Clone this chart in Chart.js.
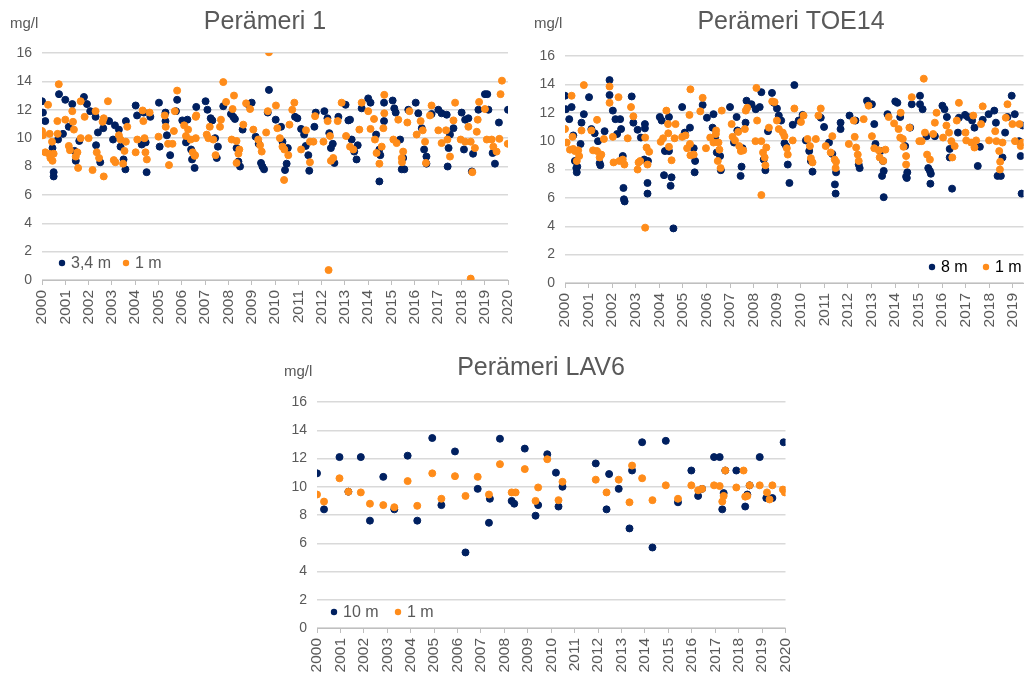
<!DOCTYPE html>
<html lang="fi">

<head>
    <meta charset="UTF-8">
    <title>Perämeri - happi</title>
    <style>
        body { margin: 0; background: #fff; }
        .wrap { position: relative; width: 1028px; height: 677px; }
        canvas { position: absolute; }
    </style>
</head>

<body>
    <div class="wrap">
        <canvas id="chartP1" width="520" height="340" style="left:0;top:0"></canvas>
        <canvas id="chartToe" width="508" height="340" style="left:520px;top:0"></canvas>
        <canvas id="chartLav" width="520" height="337" style="left:270px;top:340px"></canvas>
    </div>

<script src="https://cdn.jsdelivr.net/npm/chart.js"></script>
<script>
    // x axis labels (years)
    const years = [2000, 2001, 2002, 2003, 2004, 2005, 2006, 2007, 2008, 2009, 2010,
                   2011, 2012, 2013, 2014, 2015, 2016, 2017, 2018, 2019, 2020];

    // --- data: [year, mg/l] ---
    const p1Deep = [
        [2000.0,12.6],[2000.04,11.8],[2000.14,11.2],[2000.45,9.3],[2000.5,7.6],[2000.5,7.3],[2000.69,9.9],[2000.73,13.1],[2000.9,10.3],
        [2001.0,12.7],[2001.15,10.8],[2001.3,12.4],[2001.4,9.1],[2001.45,8.4],[2001.6,9.8],[2001.8,12.9],[2001.93,12.4],
        [2002.07,11.9],[2002.3,11.5],[2002.32,9.5],[2002.4,10.4],[2002.5,8.3],[2002.63,10.7],[2002.88,11.2],
        [2003.05,9.9],[2003.13,10.9],[2003.3,10.6],[2003.37,9.4],[2003.5,8.5],[2003.58,7.8],[2003.6,11.2],
        [2004.02,12.3],[2004.08,11.6],[2004.28,9.55],[2004.37,11.8],[2004.45,9.7],[2004.49,7.6],[2004.65,11.5],
        [2005.02,12.5],[2005.05,9.4],[2005.3,11.8],[2005.3,11.2],[2005.36,10.2],[2005.5,8.8],[2005.75,11.9],[2005.8,12.7],
        [2006.02,11.25],[2006.18,9.7],[2006.24,11.3],[2006.4,9.2],[2006.44,8.5],[2006.55,7.9],[2006.62,12.2],
        [2007.02,12.6],[2007.1,12.0],[2007.24,11.4],[2007.31,11.25],[2007.43,10.0],[2007.5,8.6],[2007.55,9.4],[2007.78,12.25],
        [2008.11,11.7],[2008.21,11.5],[2008.28,11.35],[2008.35,9.3],[2008.43,8.35],[2008.5,8.0],[2008.61,10.6],[2008.83,12.4],
        [2009.0,12.5],[2009.17,10.1],[2009.3,9.6],[2009.4,8.25],[2009.46,8.0],[2009.53,7.8],[2009.69,11.8],[2009.74,13.4],
        [2010.03,11.3],[2010.26,10.8],[2010.32,9.75],[2010.43,7.75],[2010.5,8.2],[2010.55,9.3],[2010.86,11.5],[2010.96,11.4],
        [2011.12,10.65],[2011.25,10.25],[2011.32,9.45],[2011.43,8.8],[2011.47,7.7],[2011.69,10.8],[2011.75,11.8],
        [2012.12,11.9],[2012.25,11.4],[2012.33,10.35],[2012.4,9.3],[2012.48,9.6],[2012.55,8.25],[2012.72,11.5],
        [2013.03,12.35],[2013.15,11.25],[2013.22,11.3],[2013.29,9.9],[2013.4,9.05],[2013.5,8.5],[2013.55,9.5],[2013.72,12.1],
        [2014.0,12.8],[2014.1,12.5],[2014.34,10.25],[2014.48,9.2],[2014.48,6.95],[2014.52,8.8],[2014.68,12.5],[2014.68,11.2],
        [2015.05,12.65],[2015.12,12.1],[2015.18,11.8],[2015.37,9.9],[2015.44,7.8],[2015.5,8.6],[2015.55,7.8],[2015.72,12.0],
        [2016.04,12.5],[2016.15,11.75],[2016.3,10.7],[2016.4,9.2],[2016.5,8.7],[2016.5,8.2],[2016.72,11.7],
        [2017.01,12.0],[2017.15,11.75],[2017.37,11.65],[2017.41,8.0],[2017.45,9.3],[2017.51,10.25],[2017.66,10.7],
        [2018.01,11.8],[2018.11,9.2],[2018.16,11.3],[2018.3,11.4],[2018.45,7.65],[2018.5,8.9],[2018.73,12.0],
        [2019.01,13.1],[2019.11,13.1],[2019.16,12.0],[2019.34,8.95],[2019.44,8.2],[2019.61,11.1],[2020.0,12.0]
    ];
    const p1Surf = [
        [2000.0,10.5],[2000.04,10.2],[2000.14,9.0],[2000.26,12.35],[2000.3,8.9],[2000.33,10.3],[2000.36,8.6],[2000.43,9.75],[2000.45,8.4],[2000.5,8.9],[2000.66,11.2],[2000.67,10.3],[2000.72,13.8],
        [2001.0,11.3],[2001.15,9.45],[2001.2,9.15],[2001.3,11.9],[2001.33,11.15],[2001.37,10.6],[2001.45,8.7],[2001.52,9.0],[2001.55,7.9],[2001.66,12.6],[2001.66,10.0],[2001.83,11.5],
        [2002.0,10.0],[2002.17,7.75],[2002.3,11.9],[2002.35,9.0],[2002.45,8.6],[2002.6,11.15],[2002.65,11.4],[2002.65,7.3],[2002.83,12.6],
        [2003.08,8.45],[2003.15,8.3],[2003.3,10.2],[2003.37,9.9],[2003.48,8.2],[2003.54,9.1],[2003.6,9.75],[2003.66,10.8],
        [2004.02,9.0],[2004.09,9.9],[2004.32,11.95],[2004.35,11.2],[2004.4,10.0],[2004.44,9.0],[2004.5,8.5],[2004.62,11.8],
        [2005.0,10.1],[2005.27,11.6],[2005.31,10.8],[2005.41,9.6],[2005.45,8.1],[2005.6,9.6],[2005.66,10.5],[2005.7,11.9],[2005.8,13.35],
        [2006.1,10.9],[2006.18,10.15],[2006.27,10.6],[2006.38,9.9],[2006.47,9.0],[2006.55,8.75],[2006.57,8.8],[2006.6,11.5],[2006.6,10.0],[2006.62,11.6],
        [2007.07,10.25],[2007.14,10.0],[2007.2,10.8],[2007.35,9.9],[2007.45,8.8],[2007.64,10.8],[2007.68,11.3],[2007.78,13.95],[2007.9,12.55],
        [2008.14,9.9],[2008.18,12.05],[2008.24,13.0],[2008.35,9.8],[2008.35,8.25],[2008.43,8.9],[2008.47,9.2],[2008.64,10.95],[2008.76,12.45],[2008.93,12.05],
        [2009.07,10.6],[2009.28,9.9],[2009.36,9.5],[2009.43,9.05],[2009.62,10.4],[2009.69,11.9],[2009.74,16.05],
        [2010.04,12.3],[2010.1,10.7],[2010.21,10.0],[2010.32,9.4],[2010.39,7.05],[2010.4,9.2],[2010.57,8.8],[2010.62,10.95],[2010.74,12.0],[2010.83,12.5],
        [2011.12,9.2],[2011.33,10.55],[2011.5,9.75],[2011.5,8.3],[2011.65,9.75],[2011.72,11.55],
        [2012.08,9.75],[2012.26,11.2],[2012.3,0.7],[2012.36,10.15],[2012.4,8.4],[2012.5,8.6],[2012.69,11.2],[2012.86,12.5],
        [2013.05,10.15],[2013.22,9.4],[2013.36,9.2],[2013.62,10.6],[2013.72,12.5],
        [2014.0,11.9],[2014.1,10.65],[2014.25,11.35],[2014.29,9.9],[2014.36,8.95],[2014.48,8.2],[2014.58,9.4],[2014.65,10.7],[2014.69,13.05],[2014.69,11.75],
        [2015.08,9.9],[2015.22,9.65],[2015.29,11.3],[2015.44,8.6],[2015.45,8.3],[2015.5,9.05],[2015.68,11.1],[2015.77,11.9],
        [2016.08,10.25],[2016.25,11.2],[2016.34,10.55],[2016.44,9.75],[2016.48,8.25],[2016.65,11.6],[2016.72,12.3],
        [2017.01,10.55],[2017.15,9.65],[2017.34,10.55],[2017.4,9.9],[2017.51,8.7],[2017.66,11.25],[2017.73,12.5],[2017.97,9.9],
        [2018.16,9.75],[2018.3,10.8],[2018.4,9.75],[2018.4,0.1],[2018.47,7.6],[2018.58,9.3],[2018.66,10.45],[2018.7,11.3],[2018.76,12.55],
        [2019.01,12.05],[2019.09,9.9],[2019.3,9.9],[2019.37,9.4],[2019.51,9.05],[2019.63,9.95],[2019.68,13.1],[2019.74,14.05],[2019.99,9.6]
    ];
    const toeDeep = [
        [2000.0,13.2],[2000.04,12.25],[2000.18,11.55],[2000.28,12.4],[2000.35,10.4],[2000.42,8.6],[2000.48,8.1],[2000.5,7.8],[2000.52,8.2],[2000.66,9.8],[2000.7,11.3],[2000.8,11.9],
        [2001.02,13.1],[2001.12,10.85],[2001.26,10.55],[2001.4,10.0],[2001.47,8.45],[2001.5,8.3],[2001.68,10.7],[2001.89,14.3],[2001.89,13.25],
        [2002.03,12.15],[2002.14,11.55],[2002.21,10.5],[2002.34,11.55],[2002.38,10.85],[2002.45,8.95],[2002.48,6.7],[2002.5,5.9],[2002.53,5.75],[2002.83,13.15],[2002.9,11.3],
        [2003.08,10.8],[2003.22,10.25],[2003.36,8.7],[2003.39,11.2],[2003.39,10.9],[2003.5,7.05],[2003.5,6.3],[2003.52,8.6],
        [2004.02,11.7],[2004.1,11.45],[2004.2,7.6],[2004.24,9.3],[2004.41,11.7],[2004.41,9.3],[2004.48,6.85],[2004.52,7.45],[2004.6,3.85],[2004.97,12.4],
        [2005.08,10.6],[2005.3,10.95],[2005.46,9.5],[2005.5,7.8],[2005.52,8.6],[2005.84,12.55],
        [2006.02,11.65],[2006.26,10.95],[2006.3,11.9],[2006.37,10.25],[2006.44,9.2],[2006.58,8.95],[2006.61,7.95],
        [2007.0,12.4],[2007.17,9.9],[2007.28,11.7],[2007.31,10.75],[2007.45,7.55],[2007.49,8.2],[2007.53,9.5],[2007.66,11.3],[2007.7,12.85],[2007.91,12.6],
        [2008.09,12.25],[2008.26,12.4],[2008.33,13.45],[2008.43,8.7],[2008.5,7.95],[2008.61,10.7],[2008.78,13.4],[2008.86,12.7],[2008.99,12.3],
        [2009.07,11.8],[2009.17,11.45],[2009.31,9.85],[2009.38,9.65],[2009.45,8.35],[2009.52,7.05],[2009.66,11.15],[2009.73,13.95],[2009.91,11.45],
        [2010.08,11.85],[2010.22,10.05],[2010.36,9.3],[2010.43,8.6],[2010.5,7.85],[2010.85,11.65],[2010.99,11.0],
        [2011.2,9.9],[2011.34,9.1],[2011.45,6.95],[2011.48,6.3],[2011.5,7.8],[2011.69,11.3],[2011.69,10.85],
        [2012.07,11.8],[2012.32,11.45],[2012.46,8.35],[2012.5,8.1],[2012.81,12.85],[2012.88,12.6],
        [2013.02,12.6],[2013.12,11.2],[2013.17,9.8],[2013.38,9.3],[2013.45,7.55],[2013.49,8.6],[2013.52,7.9],[2013.52,6.05],[2013.68,11.9],
        [2014.01,12.8],[2014.1,12.7],[2014.22,11.7],[2014.43,9.65],[2014.47,7.5],[2014.5,7.4],[2014.52,7.8],[2014.64,10.95],[2014.71,12.6],
        [2015.06,13.2],[2015.06,12.6],[2015.17,12.25],[2015.34,10.35],[2015.41,8.1],[2015.48,7.9],[2015.5,7.0],[2015.52,7.7],[2015.69,10.35],
        [2016.01,12.5],[2016.1,12.25],[2016.2,11.7],[2016.32,9.45],[2016.32,8.85],[2016.42,6.65],[2016.67,10.6],[2016.71,11.65],
        [2016.97,11.85],[2017.09,11.7],[2017.27,11.45],[2017.37,10.95],[2017.51,8.25],[2017.6,9.6],[2017.72,11.5],[2017.97,11.9],
        [2018.21,12.15],[2018.28,11.3],[2018.35,7.55],[2018.49,7.55],[2018.56,8.85],[2018.67,10.6],[2018.77,11.7],[2018.95,13.2],
        [2019.08,11.9],[2019.26,10.0],[2019.33,8.95],[2019.37,6.3],[2019.42,11.1]
    ];
    const toeSurf = [
        [2000.0,10.85],[2000.07,9.9],[2000.21,9.4],[2000.28,13.2],[2000.32,10.3],[2000.35,9.45],[2000.42,9.3],[2000.5,8.6],[2000.56,9.35],[2000.6,8.95],[2000.7,10.75],[2000.8,13.95],
        [2001.12,10.75],[2001.19,9.35],[2001.36,9.3],[2001.36,11.5],[2001.47,8.85],[2001.54,9.05],[2001.65,10.15],[2001.89,13.85],[2001.89,12.7],
        [2002.03,10.3],[2002.06,8.5],[2002.27,13.1],[2002.31,8.6],[2002.45,8.7],[2002.52,8.35],[2002.66,10.2],[2002.8,12.4],[2002.9,11.75],
        [2003.08,8.0],[2003.12,8.5],[2003.19,8.6],[2003.4,10.25],[2003.4,3.9],[2003.46,9.55],[2003.5,8.35],[2003.57,9.25],
        [2004.06,9.95],[2004.16,10.2],[2004.3,12.15],[2004.37,11.2],[2004.38,10.55],[2004.41,9.6],[2004.52,8.65],[2004.65,10.2],[2004.69,11.2],[2004.97,10.3],
        [2005.11,10.4],[2005.18,9.5],[2005.28,11.85],[2005.3,9.8],[2005.32,13.65],[2005.32,9.0],[2005.46,9.05],[2005.74,12.1],[2005.84,13.05],[2005.98,9.5],
        [2006.16,10.25],[2006.3,9.9],[2006.4,10.5],[2006.41,10.75],[2006.48,8.6],[2006.51,9.9],[2006.55,9.4],[2006.6,8.1],[2006.65,12.15],
        [2007.07,11.2],[2007.11,10.3],[2007.21,10.05],[2007.35,10.65],[2007.39,9.65],[2007.46,9.3],[2007.56,9.35],[2007.63,10.85],[2007.67,12.15],[2007.73,12.35],
        [2008.08,10.0],[2008.12,13.75],[2008.15,11.45],[2008.33,10.0],[2008.33,6.2],[2008.4,9.2],[2008.47,8.85],[2008.5,8.3],[2008.54,9.55],[2008.65,10.95],[2008.79,12.8],[2008.89,12.75],
        [2008.99,11.45],[2009.07,10.85],[2009.24,10.6],[2009.31,10.35],[2009.41,9.5],[2009.45,9.05],[2009.66,10.05],[2009.73,12.3],
        [2010.01,11.35],[2010.12,11.8],[2010.29,10.15],[2010.39,9.65],[2010.43,8.8],[2010.5,8.5],[2010.64,10.15],[2010.75,11.8],[2010.85,12.3],
        [2011.06,9.65],[2011.27,9.2],[2011.34,10.35],[2011.44,8.7],[2011.48,8.1],[2011.5,8.55],
        [2012.04,9.8],[2012.25,11.45],[2012.29,10.3],[2012.35,9.55],[2012.42,9.05],[2012.46,8.6],[2012.67,11.55],[2012.88,12.5],
        [2013.02,10.35],[2013.12,9.5],[2013.31,9.35],[2013.35,8.85],[2013.5,8.6],[2013.59,9.4],[2013.73,11.7],[2013.96,11.25],
        [2014.15,10.85],[2014.22,10.25],[2014.24,12.0],[2014.33,10.15],[2014.36,9.6],[2014.47,8.95],[2014.47,8.35],[2014.61,10.95],[2014.71,13.1],
        [2015.03,10.0],[2015.13,10.0],[2015.22,14.4],[2015.27,10.6],[2015.36,9.05],[2015.48,8.7],[2015.62,10.5],[2015.69,11.3],[2015.76,12.0],
        [2016.04,10.25],[2016.18,11.1],[2016.29,10.6],[2016.39,10.0],[2016.43,8.85],[2016.53,9.65],[2016.62,11.45],[2016.71,12.7],
        [2016.99,10.6],[2017.02,10.05],[2017.23,9.9],[2017.32,11.8],[2017.37,9.55],[2017.44,10.05],[2017.65,11.2],[2017.72,12.45],[2017.99,10.05],
        [2018.25,10.7],[2018.3,10.0],[2018.42,9.3],[2018.45,8.0],[2018.46,8.55],[2018.56,9.9],[2018.7,11.65],[2018.77,12.6],[2018.98,11.2],
        [2019.09,10.0],[2019.28,11.2],[2019.33,9.65],[2019.4,9.9]
    ];
    const lavDeep = [
        [2000.0,10.95],[2000.3,8.4],[2000.96,12.1],[2001.34,9.65],[2001.87,12.1],[2002.26,7.6],[2002.83,10.7],[2003.3,8.4],
        [2003.87,12.2],[2004.28,7.6],[2004.92,13.45],[2005.31,8.7],[2005.89,12.5],[2006.34,5.35],[2006.86,9.85],[2007.34,7.45],
        [2007.38,9.15],[2007.81,13.4],[2008.31,9.0],[2008.42,8.8],[2008.87,12.7],[2009.33,7.95],[2009.44,8.7],[2009.83,12.3],
        [2010.2,11.0],[2010.31,8.6],[2010.48,10.0],[2011.9,11.65],[2012.36,8.4],[2012.47,10.9],[2012.88,9.85],[2013.34,7.05],
        [2013.45,11.15],[2013.88,13.15],[2014.32,5.7],[2014.89,13.25],[2015.41,8.9],[2015.98,11.15],[2016.27,9.35],[2016.44,9.85],
        [2016.95,12.1],[2017.19,12.1],[2017.3,8.4],[2017.36,9.55],[2017.43,11.15],[2017.9,11.15],[2018.28,8.6],[2018.37,9.45],
        [2018.47,10.1],[2018.9,12.1],[2019.18,9.2],[2019.44,9.2],[2019.92,13.15]
    ];
    const lavSurf = [
        [2000.0,9.45],[2000.3,8.95],[2000.96,10.6],[2001.34,9.65],[2001.87,9.6],[2002.26,8.8],[2002.83,8.7],[2003.3,8.55],
        [2003.87,10.4],[2004.28,8.65],[2004.92,10.95],[2005.31,9.15],[2005.89,10.75],[2006.34,9.35],[2006.86,10.7],[2007.34,9.45],
        [2007.81,11.6],[2008.31,9.6],[2008.48,9.6],[2008.87,11.25],[2009.33,9.0],[2009.44,9.95],[2009.83,11.95],[2010.31,9.05],
        [2010.48,10.35],[2011.9,10.5],[2012.36,9.6],[2012.88,10.5],[2013.34,8.9],[2013.45,11.5],[2013.88,10.6],[2014.32,9.05],
        [2014.89,10.1],[2015.41,9.15],[2015.98,10.1],[2016.27,9.75],[2016.44,9.85],[2016.95,10.1],[2017.19,10.05],[2017.3,8.95],
        [2017.36,9.35],[2017.43,11.15],[2017.9,9.95],[2018.21,11.15],[2018.28,9.3],[2018.37,9.35],[2018.47,10.1],[2018.9,10.1],
        [2019.21,9.6],[2019.32,9.1],[2019.44,10.1],[2019.89,9.8],[2019.97,9.6]
    ];

    const NAVY = '#002060';
    const ORANGE = '#ff8c1a';
    const GREY = '#595959';
    const FONT = '"Liberation Sans", Arial, sans-serif';

    Chart.defaults.font.family = FONT;
    Chart.defaults.color = GREY;

    // title, unit and the small legend inside the plot
    const decor = {
        id: 'decor',
        afterDraw(chart, args, o) {
            const c = chart.ctx;
            c.save();
            c.fillStyle = GREY;
            c.textBaseline = 'alphabetic';
            c.textAlign = 'center';
            c.font = '25px ' + FONT;
            c.fillText(o.title, o.titleX, o.titleY);
            c.textAlign = 'left';
            c.font = '15px ' + FONT;
            c.fillText('mg/l', o.unitX, o.unitY);

            c.font = '16px ' + FONT;
            c.textBaseline = 'middle';
            chart.data.datasets.forEach((ds, i) => {
                const it = o.legend[i];
                c.fillStyle = ds.backgroundColor;
                c.beginPath();
                c.arc(it.x, o.legendY, 3.2, 0, Math.PI * 2);
                c.fill();
                c.fillStyle = o.legendColor;
                c.fillText(ds.label, it.x + 9, o.legendY + 1);
            });
            c.restore();
        }
    };

    function toPoints(arr) {
        return arr.map(p => ({ x: p[0], y: p[1] }));
    }

    function makeChart(id, deepLabel, deep, surf, opt) {
        new Chart(document.getElementById(id), {
            type: 'scatter',
            data: {
                datasets: [
                    { label: deepLabel, data: toPoints(deep), backgroundColor: NAVY, borderColor: NAVY, order: 2 },
                    { label: '1 m', data: toPoints(surf), backgroundColor: ORANGE, borderColor: ORANGE, order: 1 }
                ]
            },
            options: {
                responsive: false,
                animation: false,
                devicePixelRatio: 1,
                layout: { padding: opt.padding },
                elements: { point: { radius: 3.5, borderWidth: 1, hoverRadius: 3.5 } },
                plugins: {
                    legend: { display: false },
                    tooltip: { enabled: false },
                    decor: opt.decor
                },
                scales: {
                    x: {
                        type: 'linear',
                        min: 2000,
                        max: opt.xMax,
                        afterFit: s => {
                            s.height = opt.xHeight;
                            s.paddingLeft = 0;
                            s.paddingRight = 0;
                        },
                        afterBuildTicks: s => {
                            s.ticks = years.filter(y => y <= s.max).map(y => ({ value: y }));
                        },
                        ticks: {
                            autoSkip: false,
                            minRotation: 90,
                            maxRotation: 90,
                            padding: 5,
                            color: GREY,
                            font: { size: 15.5 },
                            callback: v => String(v)
                        },
                        grid: { drawOnChartArea: false, drawTicks: true, tickLength: 5, color: '#bfbfbf' },
                        border: { color: '#bfbfbf' }
                    },
                    y: {
                        min: 0,
                        max: 16,
                        afterFit: s => { s.width = opt.yWidth; },
                        ticks: { stepSize: 2, padding: 10, color: GREY, font: { size: 14 } },
                        grid: { color: '#d9d9d9', lineWidth: 1.5, drawTicks: false },
                        border: { display: false }
                    }
                }
            },
            plugins: [decor]
        });
    }

    makeChart('chartP1', '3,4 m', p1Deep, p1Surf, {
        padding: { top: 53, right: 12, bottom: 5, left: 0 },
        yWidth: 42, xHeight: 55, xMax: 2020,
        decor: { title: 'Perämeri 1', titleX: 265, titleY: 29, unitX: 10, unitY: 28,
                 legendY: 263, legendColor: GREY, legend: [{ x: 62 }, { x: 126 }] }
    });

    makeChart('chartToe', '8 m', toeDeep, toeSurf, {
        padding: { top: 56, right: 0, bottom: 2, left: 0 },
        yWidth: 45, xHeight: 55, xMax: 2019.45,
        decor: { title: 'Perämeri TOE14', titleX: 271, titleY: 29, unitX: 14, unitY: 28,
                 legendY: 267, legendColor: '#000', legend: [{ x: 412 }, { x: 466 }] }
    });

    makeChart('chartLav', '10 m', lavDeep, lavSurf, {
        padding: { top: 62, right: 4, bottom: 4, left: 0 },
        yWidth: 47, xHeight: 45, xMax: 2020,
        decor: { title: 'Perämeri LAV6', titleX: 271, titleY: 35, unitX: 14, unitY: 36,
                 legendY: 272, legendColor: GREY, legend: [{ x: 64 }, { x: 128 }] }
    });
</script>
</body>
</html>
